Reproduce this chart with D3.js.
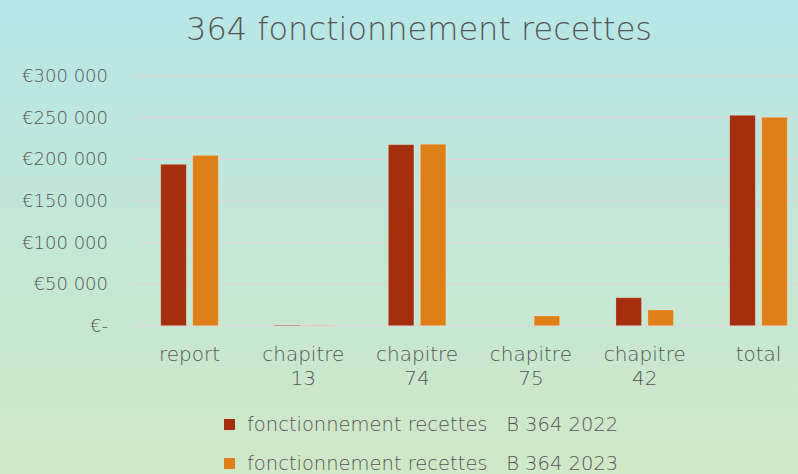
<!DOCTYPE html>
<html>
<head>
<meta charset="utf-8">
<script src="https://cdn.jsdelivr.net/npm/d3@7"></script>
<style>
  body { margin: 0; }
  svg { display: block; font-family: "DejaVu Sans", sans-serif; }
</style>
</head>
<body>
<div id="chart"></div>
<script>
// data
const categories = ["report", "chapitre 13", "chapitre 74", "chapitre 75", "chapitre 42", "total"];
const values2022 = [193900, 800, 217500, 0, 33600, 252800];
const values2023 = [204700, 500, 218000, 11700, 18900, 250400];
const seriesNames = ["fonctionnement recettes   B 364 2022", "fonctionnement recettes   B 364 2023"];
const yTicks = [0, 50000, 100000, 150000, 200000, 250000, 300000];

const WIDTH = 798, HEIGHT = 474;
const COLORS = ["#a42e0e", "#df7f17"];
const TEXT = "#555555";
const FONT = '"DejaVu Sans", sans-serif';

const svg = d3.select('#chart').append('svg')
  .attr('width', WIDTH)
  .attr('height', HEIGHT);

// background gradient
const grad = svg.append('defs').append('linearGradient')
  .attr('id', 'bg').attr('x1', 0).attr('y1', 0).attr('x2', 0).attr('y2', 1);
grad.append('stop').attr('offset', '0%').attr('stop-color', '#b8e6e8');
grad.append('stop').attr('offset', '100%').attr('stop-color', '#cfe8c6');
svg.append('rect').attr('width', WIDTH).attr('height', HEIGHT).attr('fill', 'url(#bg)');

// title
svg.append('text')
  .attr('x', 419).attr('y', 40)
  .attr('text-anchor', 'middle')
  .attr('fill', TEXT)
  .attr('font-size', 32)
  .attr('font-weight', 200)
  .text('364 fonctionnement recettes');

const x = d3.scaleBand()
  .domain(categories)
  .range([132.6, 815.4]);

const xInner = d3.scaleBand()
  .domain([0, 1])
  .range([0, x.bandwidth()])
  .paddingInner(0.2)
  .paddingOuter(0.88);

const y = d3.scaleLinear()
  .domain([0, 300000])
  .range([325.7, 76]);

// gridlines
svg.append('g')
  .selectAll('line')
  .data(yTicks)
  .join('line')
  .attr('x1', 133).attr('x2', WIDTH)
  .attr('y1', d => y(d)).attr('y2', d => y(d))
  .attr('stroke', '#d9d9d9')
  .attr('stroke-width', 1.5);

// y axis labels
const fmt = d => d === 0 ? '€-' : '€' + d3.format(',')(d).replace(/,/g, ' ');
const yAxis = svg.append('g')
  .attr('transform', 'translate(108,0)')
  .call(d3.axisLeft(y).tickValues(yTicks).tickFormat(fmt).tickSize(0).tickPadding(0));
yAxis.select('.domain').remove();
yAxis.selectAll('text')
  .attr('fill', TEXT)
  .attr('font-size', 18)
  .attr('font-family', FONT)
  .attr('font-weight', 200);

// bars
const series = [values2022, values2023];
series.forEach((vals, s) => {
  svg.append('g')
    .selectAll('rect')
    .data(categories)
    .join('rect')
    .attr('x', d => x(d) + xInner(s))
    .attr('width', xInner.bandwidth())
    .attr('y', (d, i) => y(vals[i]))
    .attr('height', (d, i) => y(0) - y(vals[i]))
    .attr('fill', COLORS[s])
    .attr('stroke', 'rgba(255,255,255,0.3)')
    .attr('stroke-width', 0.8);
});

// category labels
const catG = svg.append('g');
categories.forEach(c => {
  const parts = c.split(' ');
  const t = catG.append('text')
    .attr('x', x(c) + x.bandwidth() / 2)
    .attr('y', 361)
    .attr('text-anchor', 'middle')
    .attr('fill', TEXT)
    .attr('font-size', 20)
    .attr('font-weight', 200);
  parts.forEach((p, i) => {
    t.append('tspan')
      .attr('x', x(c) + x.bandwidth() / 2)
      .attr('dy', i === 0 ? 0 : 24)
      .text(p);
  });
});

// legend
const legend = svg.append('g');
seriesNames.forEach((name, i) => {
  const ly = 424 + i * 39;
  legend.append('rect')
    .attr('x', 224).attr('y', ly - 5)
    .attr('width', 11).attr('height', 11)
    .attr('fill', COLORS[i]);
  legend.append('text')
    .attr('x', 247).attr('y', ly + 7)
    .attr('fill', TEXT)
    .attr('font-size', 19.5)
    .attr('font-weight', 200)
    .style('white-space', 'pre')
    .text(name);
});
</script>
</body>
</html>
